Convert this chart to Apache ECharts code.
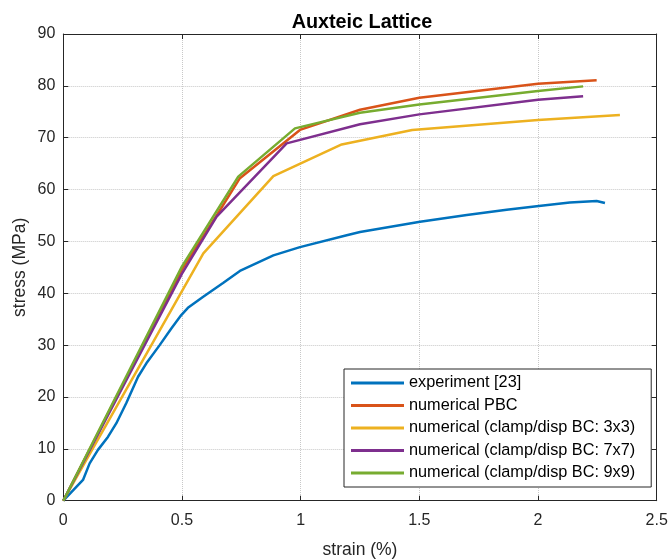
<!DOCTYPE html>
<html>
<head>
<meta charset="utf-8">
<script src="https://cdn.jsdelivr.net/npm/echarts@6/dist/echarts.min.js"></script>
<style>html,body{margin:0;padding:0;background:#fff}#c{width:670px;height:559px}</style>
</head>
<body>
<div id="c"></div>
<script>
const seriesNames = ['experiment [23]','numerical PBC','numerical (clamp/disp BC: 3x3)','numerical (clamp/disp BC: 7x7)','numerical (clamp/disp BC: 9x9)'];
const colors = ['#0072BD','#D95319','#EDB120','#7E2F8E','#77AC30'];
const experiment = [[0,0],[0.083,4.0],[0.111,7.2],[0.146,9.8],[0.188,12.3],[0.223,14.9],[0.265,18.8],[0.315,23.9],[0.35,26.5],[0.406,30.0],[0.455,33.2],[0.497,35.8],[0.525,37.2],[0.588,39.3],[0.673,42.0],[0.744,44.3],[0.885,47.3],[0.997,48.9],[1.194,51.2],[1.25,51.8],[1.503,53.8],[1.7,55.1],[1.868,56.1],[1.994,56.8],[2.134,57.5],[2.247,57.8],[2.282,57.4]];
const pbc = [[0,0],[0.5,44.6],[0.646,55.0],[0.744,62.2],[0.997,71.5],[1.25,75.4],[1.5,77.7],[2.0,80.4],[2.247,81.1]];
const clamp3 = [[0,0],[0.59,47.7],[0.885,62.6],[1.173,68.7],[1.47,71.5],[2.0,73.4],[2.345,74.4]];
const clamp7 = [[0,0],[0.5,43.8],[0.646,54.8],[0.941,68.9],[1.25,72.6],[1.5,74.5],[2.0,77.3],[2.19,78.0]];
const clamp9 = [[0,0],[0.5,45.2],[0.737,62.5],[0.976,71.8],[1.25,74.8],[1.5,76.4],[2.0,79.0],[2.19,79.9]];
const allData = [experiment, pbc, clamp3, clamp7, clamp9];
const xTicks = {min:0, max:2.5, interval:0.5};
const yTicks = {min:0, max:90, interval:10};

const font = 'Liberation Sans, Arial, sans-serif';
const axisColor = '#262626';
const chart = echarts.init(document.getElementById('c'), null, {renderer:'canvas'});
const gridLine = {show:true, lineStyle:{color:'#c8c8c8', type:[1,1], width:1}};
chart.setOption({
  animation:false,
  backgroundColor:'#fff',
  title:{text:'Auxteic Lattice', left:357, top:8, textAlign:'center',
    textStyle:{fontFamily:font, fontWeight:'bold', fontSize:19.8, color:'#000'}},
  grid:{left:63.3, right:13.3, top:34, bottom:58.3, containLabel:false, outerBoundsMode:'none'},
  xAxis:[{type:'value', min:xTicks.min, max:xTicks.max, interval:xTicks.interval, position:'bottom',
      name:'strain (%)', nameLocation:'middle', nameGap:40, nameMoveOverlap:false,
      nameTextStyle:{fontFamily:font, fontSize:17.5, color:'#262626'},
      axisLine:{show:true, onZero:false, lineStyle:{color:axisColor, width:1}},
      axisTick:{show:true, inside:true, length:5, lineStyle:{color:axisColor}},
      axisLabel:{fontFamily:font, fontSize:16, color:'#262626', margin:12,
        formatter:v=>String(v)},
      splitLine:gridLine},
    {type:'value', min:xTicks.min, max:xTicks.max, interval:xTicks.interval, position:'top',
      axisLine:{show:true, onZero:false, lineStyle:{color:axisColor, width:1}},
      axisTick:{show:true, inside:true, length:5, lineStyle:{color:axisColor}},
      axisLabel:{show:false}, splitLine:{show:false}}],
  yAxis:[{type:'value', min:yTicks.min, max:yTicks.max, interval:yTicks.interval, position:'left',
      name:'stress (MPa)', nameLocation:'middle', nameGap:34, nameRotate:90, nameMoveOverlap:false,
      nameTextStyle:{fontFamily:font, fontSize:17.5, color:'#262626'},
      axisLine:{show:true, onZero:false, lineStyle:{color:axisColor, width:1}},
      axisTick:{show:true, inside:true, length:5, lineStyle:{color:axisColor}},
      axisLabel:{fontFamily:font, fontSize:16, color:'#262626', margin:8},
      splitLine:gridLine},
    {type:'value', min:yTicks.min, max:yTicks.max, interval:yTicks.interval, position:'right',
      axisLine:{show:true, onZero:false, lineStyle:{color:axisColor, width:1}},
      axisTick:{show:true, inside:true, length:5, lineStyle:{color:axisColor}},
      axisLabel:{show:false}, splitLine:{show:false}}],
  legend:{orient:'vertical', left:344, top:369, padding:[4,16,4,7], itemGap:2.5,
    itemWidth:53, itemHeight:14, backgroundColor:'#fff', borderColor:'#262626', borderWidth:1,
    borderRadius:0,
    textStyle:{fontFamily:font, fontSize:16.3, color:'#000', lineHeight:20},
    data:seriesNames.map(n=>({name:n, icon:'path://M0,0 L53,0 L53,3 L0,3 Z'}))},
  series: seriesNames.map((n,i)=>({
    name:n, type:'line', data:allData[i], symbol:'none', showSymbol:false,
    xAxisIndex:0, yAxisIndex:0,
    lineStyle:{color:colors[i], width:2.5}, itemStyle:{color:colors[i]},
    z:2+i}))
});
</script>
</body>
</html>
